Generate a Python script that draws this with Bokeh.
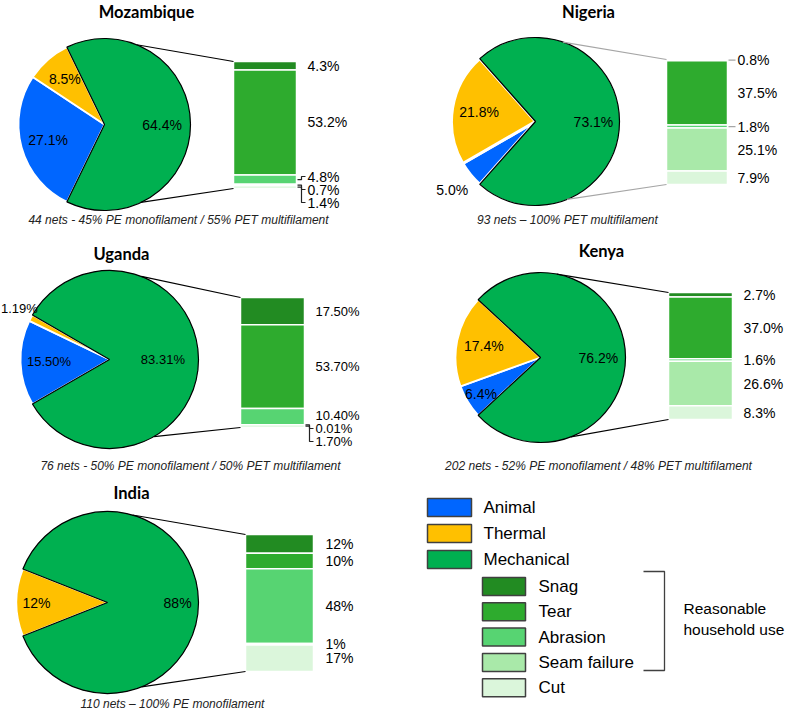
import math
from bokeh.plotting import figure
from bokeh.models import Range1d
from bokeh.core.properties import value
from bokeh.embed import file_html
from bokeh.resources import INLINE

# ---------------- data ----------------
countries = ["Mozambique", "Nigeria", "Uganda", "Kenya", "India"]
captions = [
    "44 nets - 45% PE monofilament / 55% PET multifilament",
    "93 nets \u2013 100% PET multifilament",
    "76 nets - 50% PE monofilament / 50% PET multifilament",
    "202 nets - 52% PE monofilament / 48% PET multifilament",
    "110 nets \u2013 100% PE monofilament",
]
animal = [27.1, 5.0, 15.50, 6.4, 0.0]
thermal = [8.5, 21.8, 1.19, 17.4, 12.0]
mechanical = [64.4, 73.1, 83.31, 76.2, 88.0]
snag = [4.3, 0.8, 17.50, 2.7, 12.0]
tear = [53.2, 37.5, 53.70, 37.0, 10.0]
abrasion = [4.8, 1.8, 10.40, 1.6, 48.0]
seam_failure = [0.7, 25.1, 0.01, 26.6, 1.0]
cut = [1.4, 7.9, 1.70, 8.3, 17.0]
decimals = [1, 1, 2, 1, 0]

main_names = ["Animal", "Thermal", "Mechanical"]
sub_names = ["Snag", "Tear", "Abrasion", "Seam failure", "Cut"]

# ---------------- styles ----------------
C_ANIMAL = "#0066FF"
C_THERMAL = "#FFC000"
C_MECH = "#00B050"
SUB_COLORS = ["#228B22", "#2EAB2E", "#57D472", "#A9E9A9", "#DBF6DB"]
FONT = value("Liberation Sans")

# ---------------- layout (page pixel coordinates) ----------------
layout = [
    dict(title=(146, 11), c=(104, 124), r=86, bar=(233, 63, 61, 127), lx=307, cap=(178, 219),
         conn=(68, 65), lc="black", fs=14, lf=[0.68, 0.70, 0.67], leaders=[2, 3, 4], sep=1.8),
    dict(title=(588, 11), c=(535, 121), r=84, bar=(666, 61, 59, 125), lx=737, cap=(567, 219),
         conn=(71, 68), lc="#A6A6A6", fs=14, lf=[1.28, 0.68, 0.69], leaders=[0, 2], sep=3.0),
    dict(title=(121, 253), c=(109, 359), r=89, bar=(240, 64, 297, 130), lx=315, cap=(190, 465),
         conn=(69, 60), lc="black", fs=13, lf=[0.68, 1.22, 0.60], leaders=[3, 4], sep=1.8),
    dict(title=(601, 250), c=(540, 357), r=85, bar=(668, 64, 292, 127), lx=743, cap=(598, 465),
         conn=(79, 69), lc="black", fs=14, lf=[0.82, 0.68, 0.68], leaders=[], sep=1.8),
    dict(title=(131, 492), c=(107, 602), r=91, bar=(245, 68, 534, 137), lx=325, cap=(172, 703),
         conn=(74, 68), lc="black", fs=14, lf=[0.78, 0.78, 0.77], leaders=[], sep=1.8),
]

W, H = 789, 711


def X(px):
    return px


def Y(py):
    return H - py


p = figure(width=W, height=H, x_range=Range1d(0, W), y_range=Range1d(0, H),
           toolbar_location=None, output_backend="svg",
           x_axis_location=None, y_axis_location=None, min_border=0)
p.grid.visible = False
p.outline_line_color = None
p.background_fill_color = "white"


def fmt(v, d):
    return f"{v:.{d}f}%"


for i, name in enumerate(countries):
    L = layout[i]
    d = decimals[i]
    cx, cy = X(L["c"][0]), Y(L["c"][1])
    r = L["r"]

    # ---- pie ----
    th = mechanical[i] / 100 * math.pi
    a_therm_end = th + thermal[i] / 100 * 2 * math.pi
    slices = [
        (animal[i], a_therm_end, 2 * math.pi - th, C_ANIMAL),
        (thermal[i], th, a_therm_end, C_THERMAL),
    ]
    for val, a0, a1, col in slices:
        if val > 0:
            p.wedge(x=[cx], y=[cy], radius=r, start_angle=[a0], end_angle=[a1],
                    fill_color=col, line_color="white", line_width=L["sep"])
    p.wedge(x=[cx], y=[cy], radius=r, start_angle=[-th], end_angle=[th],
            fill_color=C_MECH, line_color="black", line_width=1.2)

    # pie labels
    mids = [(a_therm_end + 2 * math.pi - th) / 2, (th + a_therm_end) / 2, 0.0]
    vals = [animal[i], thermal[i], mechanical[i]]
    for k in range(3):
        if vals[k] <= 0:
            continue
        f = L["lf"][k]
        tx = cx + f * r * math.cos(mids[k])
        ty = cy + f * r * math.sin(mids[k])
        s = fmt(vals[k], d)
        est = len(s) * 0.55 * L["fs"]
        if tx - est / 2 < 1:
            tx = 1 + est / 2
        p.text(x=[tx], y=[ty], text=[s], text_font=FONT, text_font_size=f"{L['fs']}px",
               text_align="center", text_baseline="middle", text_color="black")

    # ---- stacked bar ----
    bx, bw, by0, bh = L["bar"]
    subs = [snag[i], tear[i], abrasion[i], seam_failure[i], cut[i]]
    total = sum(subs)
    scale = bh / total
    cum = 0.0
    centers = []
    for k, v in enumerate(subs):
        t_py = by0 + cum * scale
        cum += v
        b_py = by0 + cum * scale
        centers.append((t_py + b_py) / 2)
        p.quad(left=[X(bx)], right=[X(bx + bw)], top=[Y(t_py)], bottom=[Y(b_py)],
               fill_color=SUB_COLORS[k], line_color="white", line_width=1.5)

    # label positions with overlap resolution
    gap = 13
    ly = list(centers)
    for k in range(1, 5):
        if ly[k] - ly[k - 1] < gap:
            ly[k] = ly[k - 1] + gap
    cap_y = by0 + bh + 14
    if ly[4] > cap_y:
        ly[4] = cap_y
        for k in range(3, -1, -1):
            if ly[k + 1] - ly[k] < gap:
                ly[k] = ly[k + 1] - gap

    lx = L["lx"]
    for k, v in enumerate(subs):
        p.text(x=[X(lx)], y=[Y(ly[k])], text=[fmt(v, d)], text_font=FONT,
               text_font_size=f"{L['fs']}px", text_align="left", text_baseline="middle",
               text_color="black")
        if k in L["leaders"]:
            br = bx + bw
            xs = [X(br + 1), X(br + 5), X(br + 5), X(lx - 2)]
            ys = [Y(centers[k]), Y(centers[k]), Y(ly[k]), Y(ly[k])]
            p.line(xs, ys, line_color=L["lc"] if L["lc"] != "black" else "#222222",
                   line_width=1.2)

    # ---- connectors ----
    at, ab = math.radians(L["conn"][0]), math.radians(L["conn"][1])
    p.line([cx + r * math.cos(at), X(bx)], [cy + r * math.sin(at), Y(by0)],
           line_color=L["lc"], line_width=1.2)
    p.line([cx + r * math.cos(ab), X(bx)], [cy - r * math.sin(ab), Y(by0 + bh)],
           line_color=L["lc"], line_width=1.2)

    # ---- title & caption ----
    p.text(x=[X(L["title"][0])], y=[Y(L["title"][1])], text=[name], text_font=value("Lato"),
           text_font_size="16.5px", text_font_style="bold", text_align="center",
           text_baseline="middle", text_color="black")
    p.text(x=[X(L["cap"][0])], y=[Y(L["cap"][1])], text=[captions[i]], text_font=FONT,
           text_font_size="12px", text_font_style="italic", text_align="center",
           text_baseline="middle", text_color="#222222")

# ---------------- legend ----------------
main_cols = [C_ANIMAL, C_THERMAL, C_MECH]
for k, nm in enumerate(main_names):
    yc = 507 + k * 26
    p.quad(left=[X(427)], right=[X(471)], top=[Y(yc - 9)], bottom=[Y(yc + 9)],
           fill_color=main_cols[k], line_color="#404040", line_width=1.5)
    p.text(x=[X(483)], y=[Y(yc)], text=[nm], text_font=FONT, text_font_size="17px",
           text_align="left", text_baseline="middle", text_color="black")
for k, nm in enumerate(sub_names):
    yc = 586 + k * 25.3
    p.quad(left=[X(482)], right=[X(525)], top=[Y(yc - 9)], bottom=[Y(yc + 9)],
           fill_color=SUB_COLORS[k], line_color="#404040", line_width=1.5)
    p.text(x=[X(538)], y=[Y(yc)], text=[nm], text_font=FONT, text_font_size="17px",
           text_align="left", text_baseline="middle", text_color="black")

p.line([X(643), X(664), X(664), X(643)], [Y(571), Y(571), Y(670), Y(670)],
       line_color="#404040", line_width=1.3)
p.text(x=[X(683), X(683)], y=[Y(608), Y(629)], text=["Reasonable", "household use"],
       text_font=FONT, text_font_size="15.5px", text_align="left", text_baseline="middle",
       text_color="black")

open("out.html", "w").write(file_html(p, INLINE))
